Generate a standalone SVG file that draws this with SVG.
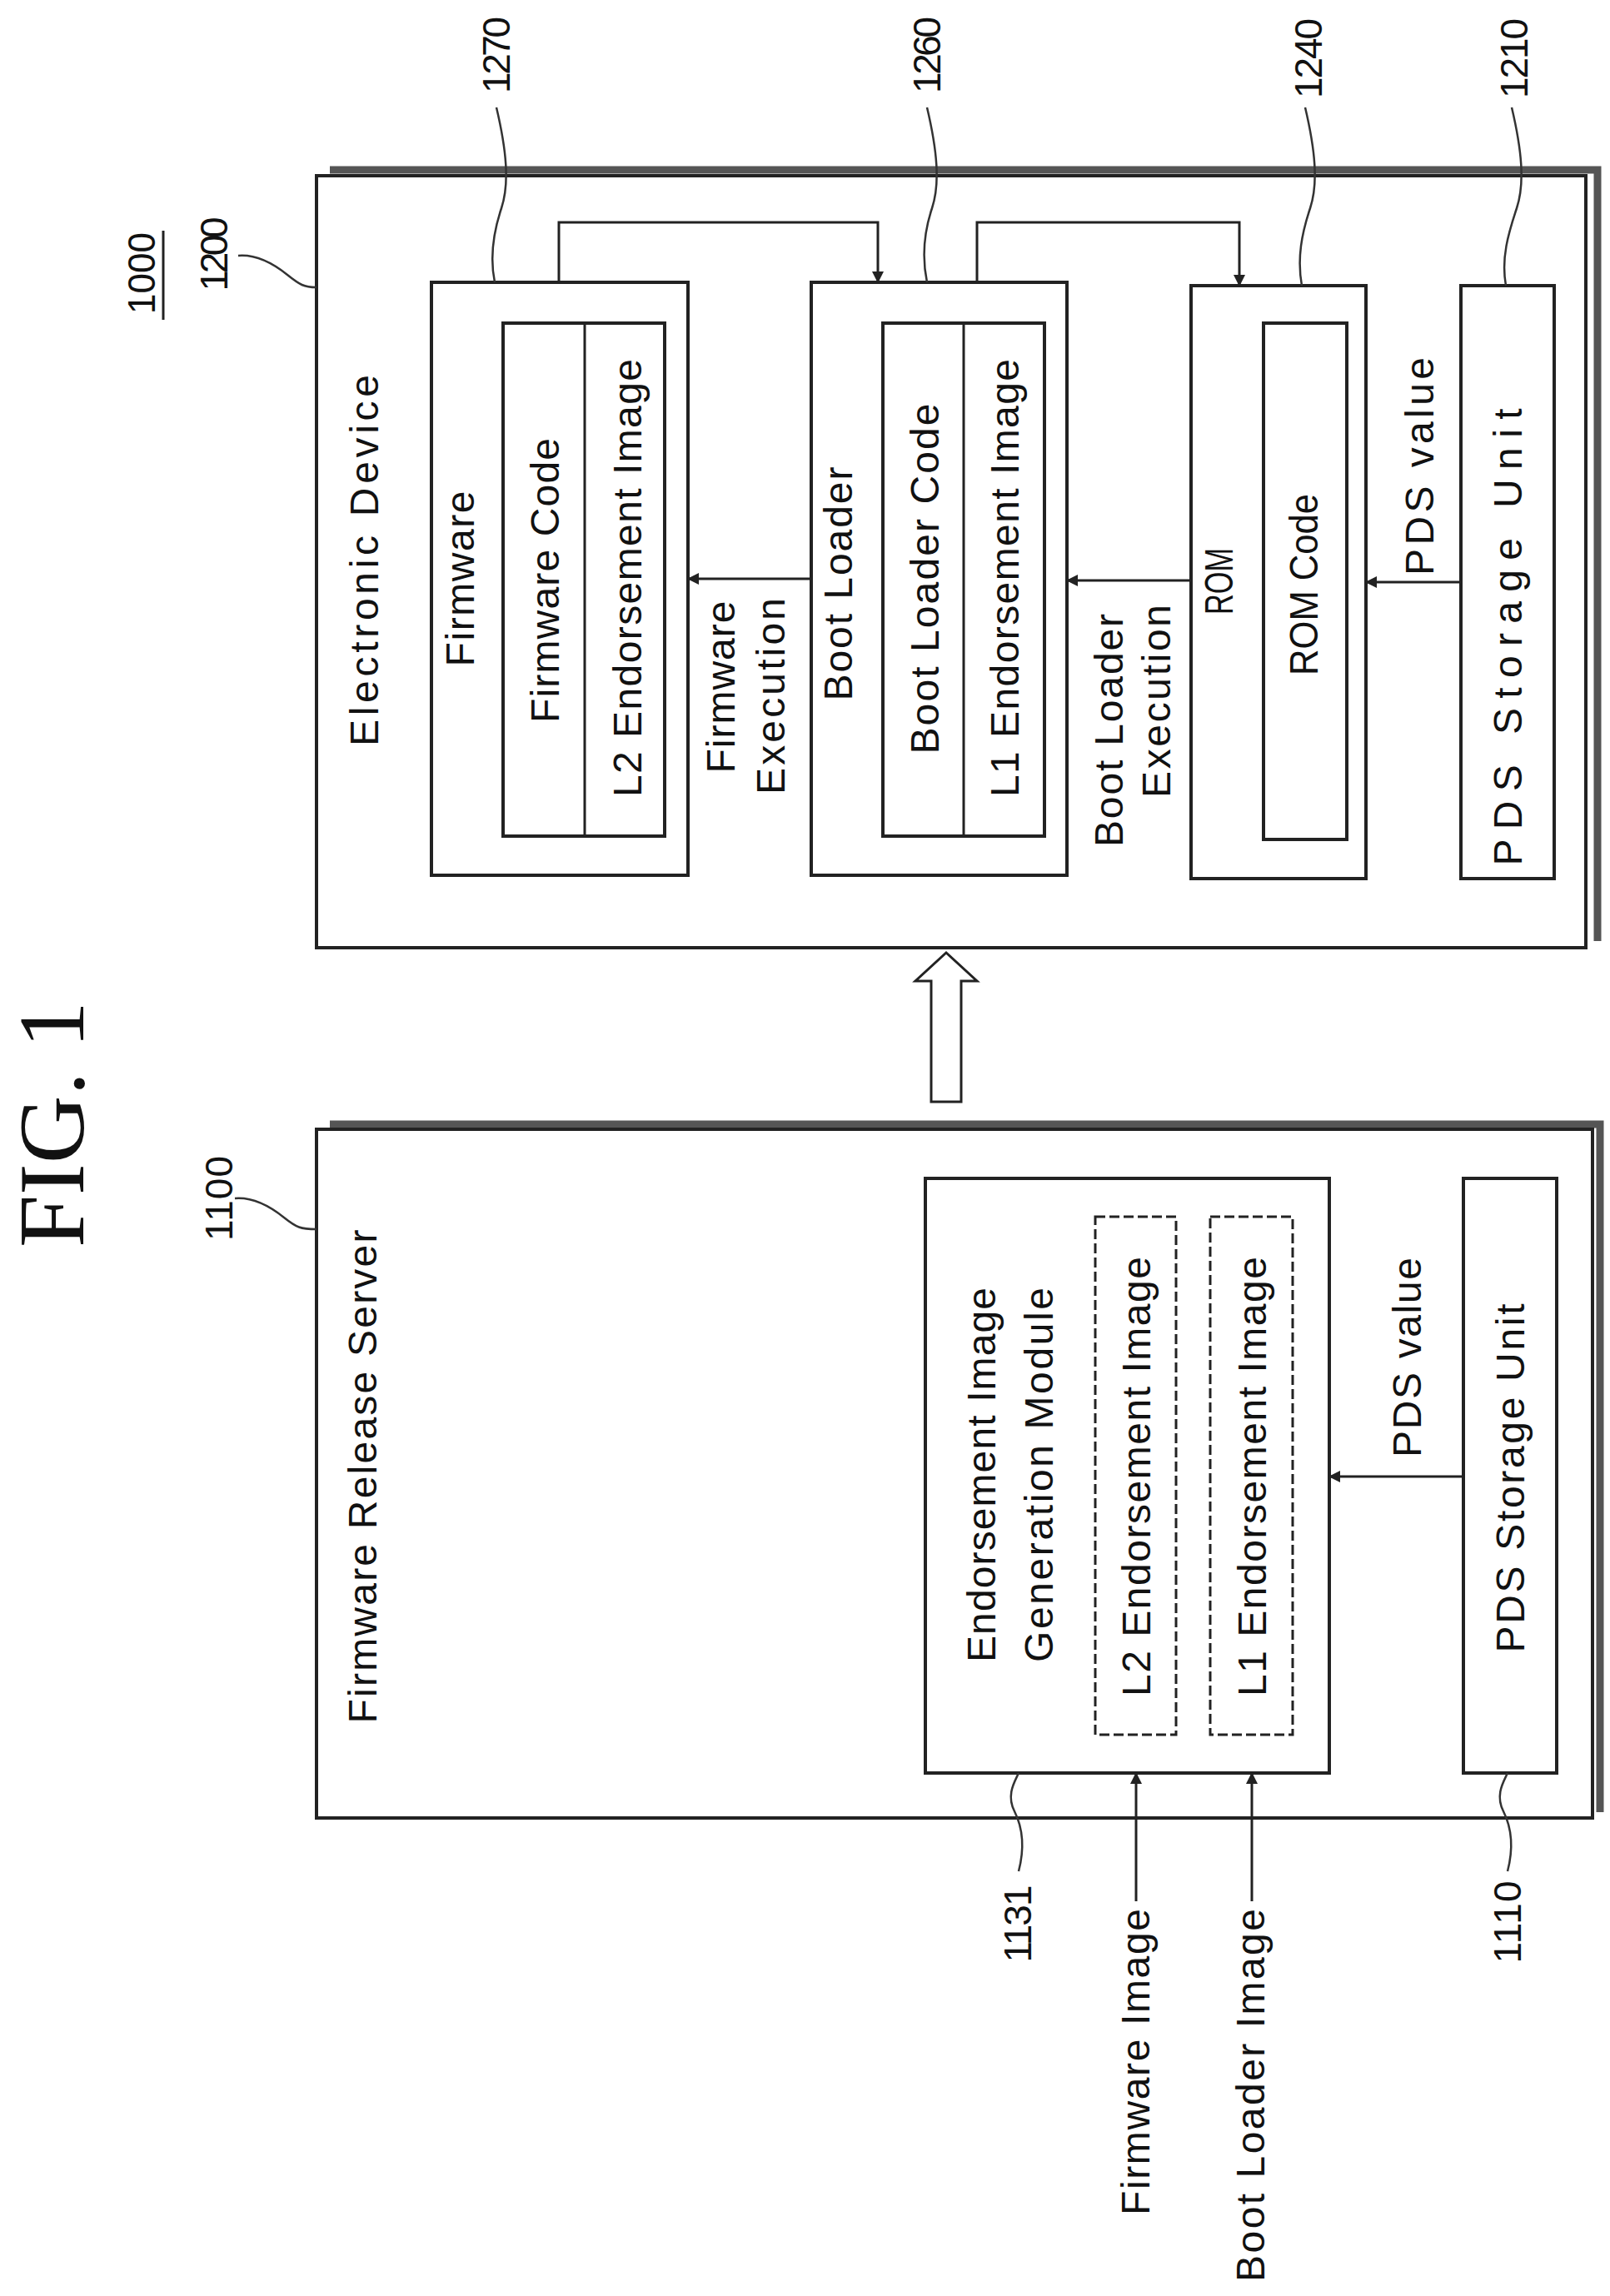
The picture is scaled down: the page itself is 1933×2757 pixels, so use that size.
<svg xmlns="http://www.w3.org/2000/svg" width="1933" height="2757" viewBox="0 0 1933 2757">
<style>
.box{fill:#fff;stroke:#222;stroke-width:4}
.dash{fill:#fff;stroke:#222;stroke-width:3;stroke-dasharray:12 5}
.ln{fill:none;stroke:#222;stroke-width:3}
.sh{fill:none;stroke:#555;stroke-width:9}
.lead{fill:none;stroke:#333;stroke-width:2.5}
text{font-family:"Liberation Sans",Arial,sans-serif;font-size:48px;fill:#111;text-anchor:middle;dominant-baseline:central}
.num{font-size:46px}
.fig{font-family:"Liberation Serif","Times New Roman",serif;font-size:112px}
</style>
<defs>
<marker id="ah" markerWidth="14" markerHeight="14" refX="13" refY="7" orient="auto" markerUnits="userSpaceOnUse">
<path d="M0,0 L14,7 L0,14 Z" fill="#222"/>
</marker>
</defs>
<rect width="1933" height="2757" fill="#fff"/>

<text class="fig" transform="translate(62,1350) rotate(-90)" textLength="296" lengthAdjust="spacingAndGlyphs">FIG. 1</text>
<g id="label1000">
<text class="num" transform="translate(170,328) rotate(-90)" textLength="98" lengthAdjust="spacingAndGlyphs">1000</text>
<line x1="196" y1="277" x2="196" y2="384" stroke="#222" stroke-width="3"/>
</g>

<g id="n1200">
<polyline class="sh" points="396,204 1918,204 1918,1130"/>
<rect class="box" x="380" y="211" width="1524" height="927"/>
<text transform="translate(437,673) rotate(-90)" textLength="446">Electronic Device</text>
<text class="num" transform="translate(257,305) rotate(-90)" textLength="89">1200</text>
</g>
<g id="n1270">
<rect class="box" x="518" y="339" width="308" height="712"/>
<text transform="translate(552,695) rotate(-90)" textLength="211">Firmware</text>
<rect class="box" x="604" y="388" width="194" height="616"/>
<line x1="702" y1="388" x2="702" y2="1004" stroke="#222" stroke-width="3"/>
<text transform="translate(654,697) rotate(-90)" textLength="342">Firmware Code</text>
<text transform="translate(753,694) rotate(-90)" textLength="526">L2 Endorsement Image</text>
<text class="num" transform="translate(596,66) rotate(-90)" textLength="92">1270</text>
</g>
<g id="n1260">
<rect class="box" x="974" y="339" width="307" height="712"/>
<text transform="translate(1006,701) rotate(-90)" textLength="281">Boot Loader</text>
<rect class="box" x="1060" y="388" width="194" height="616"/>
<line x1="1157" y1="388" x2="1157" y2="1004" stroke="#222" stroke-width="3"/>
<text transform="translate(1110,695) rotate(-90)" textLength="421">Boot Loader Code</text>
<text transform="translate(1206,694) rotate(-90)" textLength="526">L1 Endorsement Image</text>
<text class="num" transform="translate(1113,66) rotate(-90)" textLength="92">1260</text>
</g>
<g id="n1240">
<rect class="box" x="1430" y="343" width="210" height="712"/>
<text transform="translate(1463,698) rotate(-90)" textLength="80" lengthAdjust="spacingAndGlyphs">ROM</text>
<rect class="box" x="1517" y="388" width="100" height="620"/>
<text transform="translate(1565,702) rotate(-90)" textLength="218" lengthAdjust="spacingAndGlyphs">ROM Code</text>
<text class="num" transform="translate(1571,70) rotate(-90)" textLength="96">1240</text>
</g>
<g id="n1210">
<rect class="box" x="1754" y="343" width="112" height="712"/>
<text transform="translate(1810,765) rotate(-90)" textLength="549">PDS Storage Unit</text>
<text class="num" transform="translate(1818,70) rotate(-90)" textLength="96">1210</text>
</g>

<g id="n1100">
<polyline class="sh" points="396,1350 1921,1350 1921,2176"/>
<rect class="box" x="380" y="1356" width="1532" height="827"/>
<text transform="translate(435,1773) rotate(-90)" textLength="593">Firmware Release Server</text>
<text class="num" transform="translate(263,1439) rotate(-90)" textLength="102">1100</text>
</g>
<g id="n1131">
<rect class="box" x="1111" y="1415" width="485" height="714"/>
<text transform="translate(1178,1771) rotate(-90)" textLength="450">Endorsement Image</text>
<text transform="translate(1247,1771) rotate(-90)" textLength="450">Generation Module</text>
<rect class="dash" x="1315" y="1461" width="97" height="622"/>
<text transform="translate(1364,1773) rotate(-90)" textLength="528">L2 Endorsement Image</text>
<rect class="dash" x="1453" y="1461" width="99" height="622"/>
<text transform="translate(1503,1773) rotate(-90)" textLength="528">L1 Endorsement Image</text>
<text class="num" transform="translate(1222,2310) rotate(-90)" textLength="93">1131</text>
</g>
<g id="n1110">
<rect class="box" x="1757" y="1415" width="112" height="714"/>
<text transform="translate(1813,1775) rotate(-90)" textLength="419">PDS Storage Unit</text>
<text class="num" transform="translate(1810,2308) rotate(-90)" textLength="99">1110</text>
</g>

<g id="connectors">
<polyline class="ln" points="671,339 671,267 1054,267 1054,339" marker-end="url(#ah)"/>
<polyline class="ln" points="1173,339 1173,267 1488,267 1488,343" marker-end="url(#ah)"/>
<line class="ln" x1="974" y1="695" x2="826" y2="695" marker-end="url(#ah)"/>
<line class="ln" x1="1430" y1="697" x2="1281" y2="697" marker-end="url(#ah)"/>
<line class="ln" x1="1754" y1="699" x2="1640" y2="699" marker-end="url(#ah)"/>
<line class="ln" x1="1757" y1="1773" x2="1596" y2="1773" marker-end="url(#ah)"/>
<line class="ln" x1="1364" y1="2283" x2="1364" y2="2129" marker-end="url(#ah)"/>
<line class="ln" x1="1503" y1="2283" x2="1503" y2="2129" marker-end="url(#ah)"/>
<text transform="translate(865,825) rotate(-90)" textLength="207">Firmware</text>
<text transform="translate(925,836) rotate(-90)" textLength="236">Execution</text>
<text transform="translate(1331,877) rotate(-90)" textLength="280">Boot Loader</text>
<text transform="translate(1388,842) rotate(-90)" textLength="232">Execution</text>
<text transform="translate(1704,560) rotate(-90)" textLength="262">PDS value</text>
<text transform="translate(1689,1630) rotate(-90)" textLength="240">PDS value</text>
<text transform="translate(1363,2476) rotate(-90)" textLength="368">Firmware Image</text>
<text transform="translate(1501,2516) rotate(-90)" textLength="448">Boot Loader Image</text>
<path d="M1118,1323 L1118,1178 L1099,1178 L1136,1144 L1173,1178 L1154,1178 L1154,1323 Z" fill="#fff" stroke="#222" stroke-width="3"/>
<path class="lead" d="M596,129 C608,180 612,220 602,250 S588,310 594,339"/>
<path class="lead" d="M1113,129 C1125,180 1129,220 1119,250 S1107,310 1113,339"/>
<path class="lead" d="M1567,129 C1579,180 1583,220 1573,250 S1557,310 1563,343"/>
<path class="lead" d="M1815,129 C1827,180 1831,220 1821,250 S1802,310 1808,343"/>
<path class="lead" d="M286,307 C310,305 330,318 345,330 S365,345 380,345"/>
<path class="lead" d="M282,1439 C306,1437 326,1450 341,1462 S361,1476 380,1476"/>
<path class="lead" d="M1223,2247 C1230,2220 1228,2195 1218,2175 S1218,2140 1223,2129"/>
<path class="lead" d="M1810,2247 C1817,2220 1815,2195 1805,2175 S1805,2140 1810,2129"/>
</g>
</svg>
